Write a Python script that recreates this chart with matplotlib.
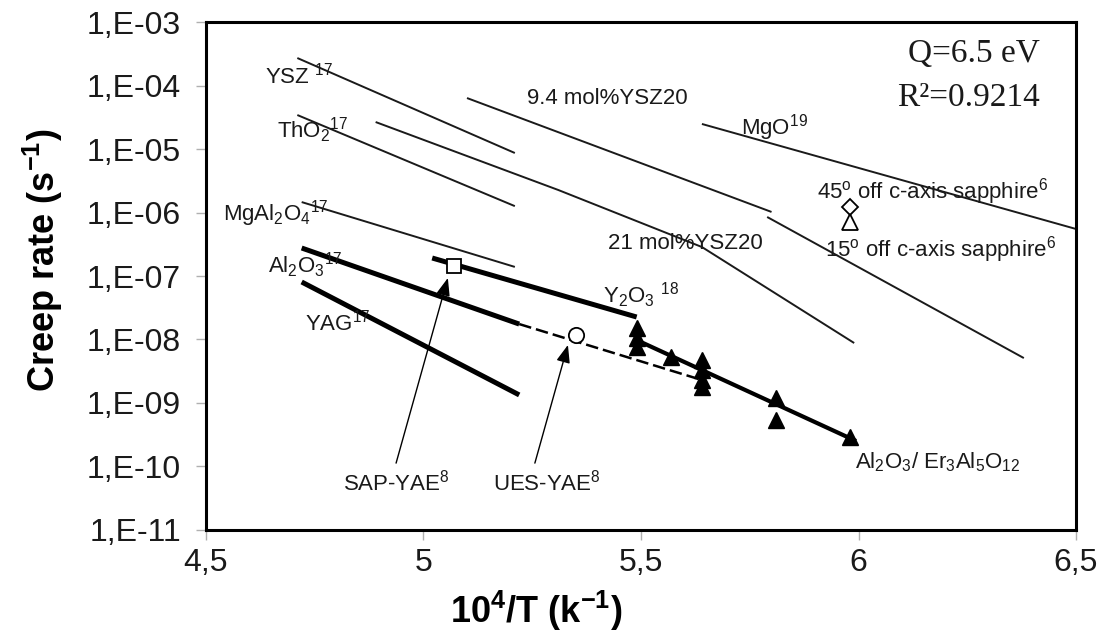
import matplotlib
matplotlib.use('Agg')
import matplotlib.pyplot as plt
from matplotlib.ticker import NullLocator

plt.rcParams['font.family'] = ['Liberation Sans', 'DejaVu Sans']
plt.rcParams['mathtext.fontset'] = 'custom'
plt.rcParams['mathtext.rm'] = 'Liberation Sans'
plt.rcParams['mathtext.it'] = 'Liberation Sans:italic'
plt.rcParams['mathtext.bf'] = 'Liberation Sans:bold'

# literature lines (thin)
ysz17_x = [4.71, 5.21]
ysz17_y = [2.71e-4, 8.65e-6]
tho2_x = [4.71, 5.21]
tho2_y = [3.43e-5, 1.26e-6]
mgal2o4_x = [4.72, 5.21]
mgal2o4_y = [1.46e-6, 1.39e-7]
ysz21_x = [4.89, 5.31, 5.64, 5.99]
ysz21_y = [2.66e-5, 2.26e-6, 2.86e-7, 8.8e-9]
ysz94_x = [5.10, 5.80]
ysz94_y = [6.35e-5, 1.02e-6]
sapph15_x = [5.79, 6.38]
sapph15_y = [8.5e-7, 5.1e-9]
mgo_x = [5.64, 6.50]
mgo_y = [2.48e-5, 5.5e-7]

# thick lines
al2o3_x = [4.72, 5.22]
al2o3_y = [2.76e-7, 1.75e-8]
al2o3_ext_x = [5.22, 5.64]
al2o3_ext_y = [1.75e-8, 2.3e-9]
yag_x = [4.72, 5.22]
yag_y = [8.05e-8, 1.34e-9]
y2o3_x = [5.02, 5.49]
y2o3_y = [1.92e-7, 2.26e-8]
eutectic_fit_x = [5.49, 5.99]
eutectic_fit_y = [9.8e-9, 2.6e-10]

# measured points Al2O3/Er3Al5O12
tri_x = [5.49, 5.49, 5.49, 5.57, 5.64, 5.64, 5.64, 5.64, 5.81, 5.81, 5.98]
tri_y = [1.52e-8, 1.06e-8, 7.6e-9, 5.3e-9, 4.75e-9, 3.3e-9, 2.3e-9, 1.79e-9,
         1.2e-9, 5.4e-10, 2.9e-10]

sap_yae = (5.07, 1.44e-7)
ues_yae = (5.35, 1.18e-8)
sapph45_pt = (5.98, 1.22e-6)
sapph15_pt = (5.98, 7.1e-7)

yticks = [1e-3, 1e-4, 1e-5, 1e-6, 1e-7, 1e-8, 1e-9, 1e-10, 1e-11]
ytick_labels = ['1,E-03', '1,E-04', '1,E-05', '1,E-06', '1,E-07',
                '1,E-08', '1,E-09', '1,E-10', '1,E-11']
xticks = [4.5, 5.0, 5.5, 6.0, 6.5]
xtick_labels = ['4,5', '5', '5,5', '6', '6,5']

fig = plt.figure(figsize=(11.05, 6.4), dpi=100)
ax = fig.add_axes([0.1864, 0.1719, 0.7874, 0.7937])
ax.set_yscale('log')

thin = dict(color='#1a1a1a', lw=1.4, solid_capstyle='butt')
for xs, ys in [(ysz17_x, ysz17_y), (tho2_x, tho2_y), (mgal2o4_x, mgal2o4_y),
               (ysz21_x, ysz21_y), (ysz94_x, ysz94_y), (sapph15_x, sapph15_y),
               (mgo_x, mgo_y)]:
    ax.plot(xs, ys, **thin)

thick = dict(color='black', lw=3.6, solid_capstyle='butt')
ax.plot(al2o3_x, al2o3_y, **thick)
ax.plot(yag_x, yag_y, **thick)
ax.plot(y2o3_x, y2o3_y, **thick)
ax.plot(al2o3_ext_x, al2o3_ext_y, color='black', lw=1.8, dashes=(5, 2))
ax.plot(eutectic_fit_x, eutectic_fit_y, color='black', lw=3.0)

ax.plot(tri_x, tri_y, ls='none', marker='^', ms=11, color='black')
ax.plot(*sap_yae, marker='s', ms=10, mfc='white', mec='black', mew=1.3)
ax.plot(*ues_yae, marker='o', ms=11, mfc='white', mec='black', mew=1.3)
ax.plot(*sapph45_pt, marker='D', ms=8, mfc='white', mec='black', mew=1.3)
ax.plot(*sapph15_pt, marker='^', ms=12, mfc='white', mec='black', mew=1.3)

# arrows
arrow = dict(arrowstyle='-|>,head_length=0.9,head_width=0.35', lw=1.0,
             color='black', shrinkA=0, shrinkB=0, mutation_scale=12)
ax.annotate('', xy=(5.056, 9.3e-8), xytext=(4.937, 1.13e-10), arrowprops=arrow)
ax.annotate('', xy=(5.332, 8.2e-9), xytext=(5.256, 1.13e-10), arrowprops=arrow)

fs = 16
tc = '#1a1a1a'
ax.text(4.636, 1.46e-4, 'YSZ $^{17}$', fontsize=fs, color=tc, va='center')
ax.text(4.663, 1.99e-5, 'ThO$_2$$^{17}$', fontsize=fs, color=tc, va='center')
ax.text(4.539, 9.8e-7, 'MgAl$_2$O$_4$$^{17}$', fontsize=fs, color=tc, va='center')
ax.text(4.643, 1.49e-7, 'Al$_2$O$_3$$^{17}$', fontsize=fs, color=tc, va='center')
ax.text(4.728, 1.82e-8, 'YAG$^{17}$', fontsize=fs, color=tc, va='center')
ax.text(5.238, 6.35e-5, '9.4 mol%YSZ20', fontsize=fs, color=tc, va='center')
ax.text(5.424, 3.3e-7, '21 mol%YSZ20', fontsize=fs, color=tc, va='center')
ax.text(5.73, 2.14e-5, 'MgO$^{19}$', fontsize=fs, color=tc, va='center')
ax.text(5.905, 2.1e-6, '45$^{\\mathrm{o}}$ off c-axis sapphire$^{6}$', fontsize=fs,
        color=tc, va='center')
ax.text(5.923, 2.57e-7, '15$^{\\mathrm{o}}$ off c-axis sapphire$^{6}$', fontsize=fs,
        color=tc, va='center')
ax.text(5.413, 5.0e-8, 'Y$_2$O$_3$ $^{18}$', fontsize=fs, color=tc, va='center')
ax.text(5.992, 1.18e-10, 'Al$_2$O$_3$/ Er$_3$Al$_5$O$_{12}$', fontsize=fs, color=tc,
        va='center')
ax.text(4.937, 5.5e-11, 'SAP-YAE$^{8}$', fontsize=fs, color=tc, ha='center', va='center')
ax.text(5.284, 5.5e-11, 'UES-YAE$^{8}$', fontsize=fs, color=tc, ha='center', va='center')

ax.text(6.417, 3.2e-4, 'Q=6.5 eV', fontsize=24, family='Liberation Serif',
        ha='right', va='center', color=tc)
ax.text(6.417, 6.35e-5, 'R²=0.9214', fontsize=24, family='Liberation Serif',
        ha='right', va='center', color=tc)

ax.set_xlim(4.5, 6.5)
ax.set_ylim(1e-11, 1e-3)
ax.set_yticks(yticks, ytick_labels)
ax.set_xticks(xticks, xtick_labels)
ax.yaxis.set_minor_locator(NullLocator())
ax.tick_params(direction='out', length=7, width=1, color='#b0b0b0',
               labelsize=23, labelcolor='#1a1a1a')
ax.tick_params(axis='y', pad=11)
ax.tick_params(axis='x', pad=6)
for sp in ax.spines.values():
    sp.set_linewidth(2.2)
    sp.set_color('black')

ax.set_ylabel('Creep rate (s$^{\\mathbf{-1}}$)', fontsize=26, fontweight='bold')
ax.set_xlabel('10$^{\\mathbf{4}}$/T (k$^{\\mathbf{-1}}$)', fontsize=26, fontweight='bold')
ax.yaxis.set_label_coords(-0.162, 0.53)
ax.xaxis.set_label_coords(0.38, -0.115)

fig.savefig('out.png', dpi=100)
